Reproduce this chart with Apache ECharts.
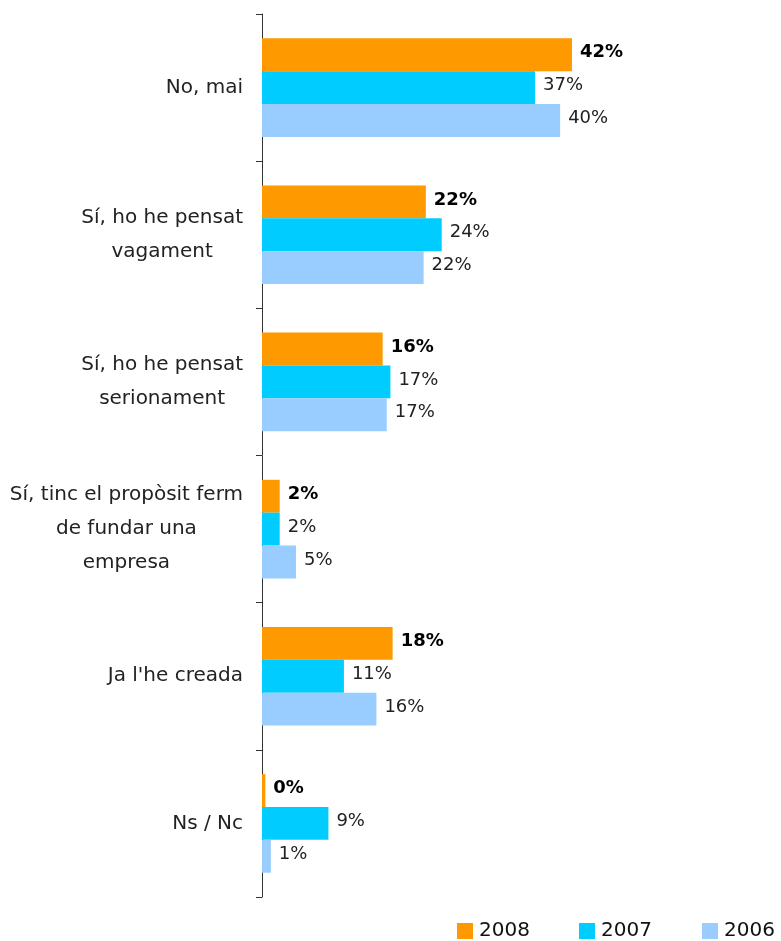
<!DOCTYPE html>
<html>
<head>
<meta charset="utf-8">
<script src="https://cdn.jsdelivr.net/npm/echarts@6/dist/echarts.min.js"></script>
<style>
html,body{margin:0;padding:0;background:#fff;}
#chart{width:781px;height:941px;}
</style>
</head>
<body>
<div id="chart"></div>
<script>
var categories = [
  "No, mai",
  "Sí, ho he pensat\nvagament",
  "Sí, ho he pensat\nserionament",
  "Sí, tinc el propòsit ferm\nde fundar una\nempresa",
  "Ja l'he creada",
  "Ns / Nc"
];
var seriesNames = ["2008", "2007", "2006"];
var values2008 = [42.0, 22.2, 16.35, 2.4, 17.7, 0.45];
var values2007 = [37.0, 24.35, 17.4, 2.4, 11.1, 9.0];
var values2006 = [40.4, 21.9, 16.9, 4.6, 15.5, 1.2];
var colors = ["#FF9900", "#00CCFF", "#99CCFF"];

var FONT = "DejaVu Sans";
var chart = echarts.init(document.getElementById('chart'), null, {renderer: 'canvas'});

function pct(p) { return Math.round(p.value) + '%'; }

function makeSeries(name, data, color, bold) {
  return {
    name: name,
    type: 'bar',
    data: data,
    barGap: '0%',
    barCategoryGap: '33%',
    itemStyle: {color: color},
    label: {
      show: true,
      position: 'right',
      distance: 8,
      offset: [0, -2],
      formatter: pct,
      fontFamily: FONT,
      fontSize: 18,
      fontWeight: bold ? 'bold' : 'normal',
      color: bold ? '#000' : '#222'
    },
    emphasis: {disabled: true},
    animation: false
  };
}

function legendAt(name, left) {
  return {
    data: [name],
    left: left,
    top: 921,
    itemWidth: 16,
    itemHeight: 16,
    itemGap: 0,
    icon: 'rect',
    textStyle: {fontFamily: FONT, fontSize: 20, color: '#111', padding: [0, 0, 0, 1]},
    padding: 0
  };
}

var option = {
  backgroundColor: '#fff',
  animation: false,
  grid: {left: 262, top: 14, bottom: 44, width: 369},
  legend: [legendAt('2008', 457), legendAt('2007', 579), legendAt('2006', 702)],
  xAxis: {
    type: 'value',
    min: 0,
    max: 50,
    show: false
  },
  yAxis: {
    type: 'category',
    data: categories,
    inverse: true,
    axisLine: {show: true, lineStyle: {color: '#333', width: 1}},
    axisTick: {show: true, length: 6, lineStyle: {color: '#333'}},
    axisLabel: {
      margin: 19,
      fontFamily: FONT,
      fontSize: 20,
      color: '#222',
      lineHeight: 34,
      formatter: function (v) {
        return v.split('\n').map(function (s) { return '{c|' + s + '}'; }).join('\n');
      },
      rich: {
        c: {align: 'center', fontFamily: FONT, fontSize: 20, color: '#222', lineHeight: 34}
      }
    },
    splitLine: {show: false}
  },
  series: [
    makeSeries(seriesNames[0], values2008, colors[0], true),
    makeSeries(seriesNames[1], values2007, colors[1], false),
    makeSeries(seriesNames[2], values2006, colors[2], false)
  ]
};
chart.setOption(option);
</script>
</body>
</html>
